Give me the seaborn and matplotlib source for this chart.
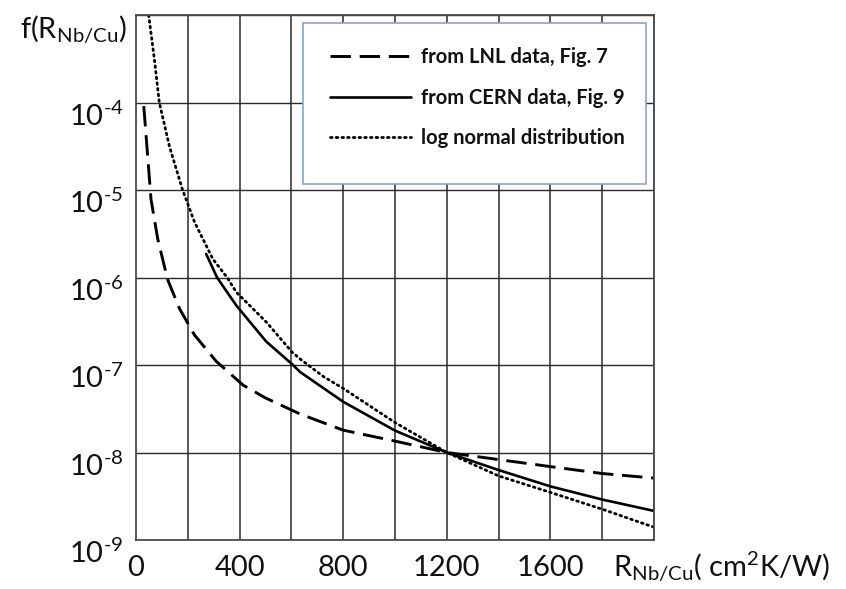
import numpy as np
import pandas as pd
import matplotlib
matplotlib.use("Agg")
import matplotlib.pyplot as plt
import matplotlib.transforms as mtransforms
from matplotlib.patches import Rectangle
import seaborn as sns

# ---- data ----
lnl_R = [30, 45, 58, 84, 122, 168, 226, 310, 413, 500, 634, 800, 1000, 1200, 1400, 1600, 1800, 2000]
lnl_f = [9.1e-5, 2.45e-5, 7.8e-6, 2.75e-6, 9.5e-7, 4.4e-7, 2.2e-7, 1.1e-7, 5.9e-8, 4.2e-8,
         2.75e-8, 1.8e-8, 1.35e-8, 1.0e-8, 8.3e-9, 6.9e-9, 5.75e-9, 5.1e-9]

cern_R = [271, 313, 387, 503, 603, 634, 800, 1000, 1200, 1400, 1600, 1800, 2000]
cern_f = [1.86e-6, 1.0e-6, 4.8e-7, 1.85e-7, 1.02e-7, 8.3e-8, 3.8e-8, 1.78e-8, 1.0e-8, 6.3e-9,
          4.1e-9, 2.9e-9, 2.15e-9]

logn_R = [49, 71, 90, 129, 180, 226, 297, 352, 387, 503, 603, 634, 723, 800, 1000, 1200,
          1400, 1600, 1800, 2000]
logn_f = [1.0e-3, 3.1e-4, 1.0e-4, 3.16e-5, 1.0e-5, 4.3e-6, 1.62e-6, 1.0e-6, 6.8e-7, 3.1e-7,
          1.4e-7, 1.17e-7, 7.4e-8, 5.4e-8, 2.2e-8, 1.0e-8, 5.4e-9, 3.5e-9, 2.25e-9, 1.4e-9]

labels = ["from LNL data, Fig. 7", "from CERN data, Fig. 9", "log normal distribution"]
x_ticks = [0, 400, 800, 1200, 1600]
y_ticks = [1e-9, 1e-8, 1e-7, 1e-6, 1e-5, 1e-4]
y_tick_labels = [r"$\mathregular{10^{\text{-}%d}}$" % k for k in [9, 8, 7, 6, 5, 4]]

# ---- style ----
sns.set_theme(style="white")
plt.rcParams["font.family"] = ["Lato", "DejaVu Sans"]
plt.rcParams["mathtext.fontset"] = "custom"
plt.rcParams["mathtext.rm"] = "Lato"
plt.rcParams["mathtext.it"] = "Lato:italic"
plt.rcParams["mathtext.bf"] = "Lato:bold"

W, H = 846, 589
fig = plt.figure(figsize=(W / 100, H / 100), dpi=100)
ax = fig.add_axes([136 / W, 49 / H, (654 - 136) / W, (540 - 15) / H])

sns.lineplot(x=lnl_R, y=lnl_f, ax=ax, color="black", lw=2.1, sort=False,
             linestyle=(0, (7.0, 3.0)), label=labels[0])
sns.lineplot(x=cern_R, y=cern_f, ax=ax, color="black", lw=1.9, sort=False,
             label=labels[1])
sns.lineplot(x=logn_R, y=logn_f, ax=ax, color="black", lw=2.0, sort=False,
             linestyle=(0, (0.6, 1.45)), dash_capstyle="round", label=labels[2])

ax.set_yscale("log")
ax.set_xlim(0, 2000)
ax.set_ylim(1e-9, 1e-3)

grid_c = "#4a4a4a"
for xv in range(200, 2001, 200):
    ax.axvline(xv, color=grid_c, lw=1.3, zorder=0)
for k in range(-8, -2):
    ax.axhline(10.0 ** k, color="#2a2a2a", lw=1.0, zorder=0)
for s in ax.spines.values():
    s.set_color(grid_c)
    s.set_linewidth(1.3)

ax.set_xticks(x_ticks)
ax.set_xticklabels([str(v) for v in x_ticks])
ax.set_yticks(y_ticks)
ax.set_yticklabels(y_tick_labels)
ax.yaxis.set_minor_locator(matplotlib.ticker.NullLocator())
ax.tick_params(axis="x", length=0, pad=11, labelsize=21, colors="#111111")
ax.tick_params(axis="y", length=0, pad=9, labelsize=21, colors="#111111")
off = mtransforms.ScaledTranslation(0, -8 / 72, fig.dpi_scale_trans)
for lab in ax.get_yticklabels():
    lab.set_transform(lab.get_transform() + off)
ax.set_xlabel("")
ax.set_ylabel("")

# legend frame and legend
rect = Rectangle((303 / W, (H - 184) / H), (646 - 303) / W, (184 - 23) / H,
                 transform=fig.transFigure, facecolor="white",
                 edgecolor="#8aa4c8", lw=1.2, zorder=4, clip_on=False)
ax.add_artist(rect)
leg = ax.legend(loc="upper left", bbox_to_anchor=(322 / W, (H - 39) / H),
                bbox_transform=fig.transFigure, frameon=False,
                prop={"weight": "bold", "size": 14.5}, handlelength=4.0,
                handletextpad=0.5, labelspacing=1.02, borderaxespad=0)
for t in leg.get_texts():
    t.set_color("#111111")
leg.set_zorder(5)

fig.text(20 / W, (H - 38) / H, r"f(R$_{\mathregular{Nb/Cu}}$)", fontsize=21,
         ha="left", va="baseline", color="#111111")
fig.text(613 / W, (H - 576) / H, r"R$_{\mathregular{Nb/Cu}}$( cm$^{\mathregular{2}}$K/W)",
         fontsize=21, ha="left", va="baseline", color="#111111")

fig.savefig("out.png", dpi=100, facecolor="white")
